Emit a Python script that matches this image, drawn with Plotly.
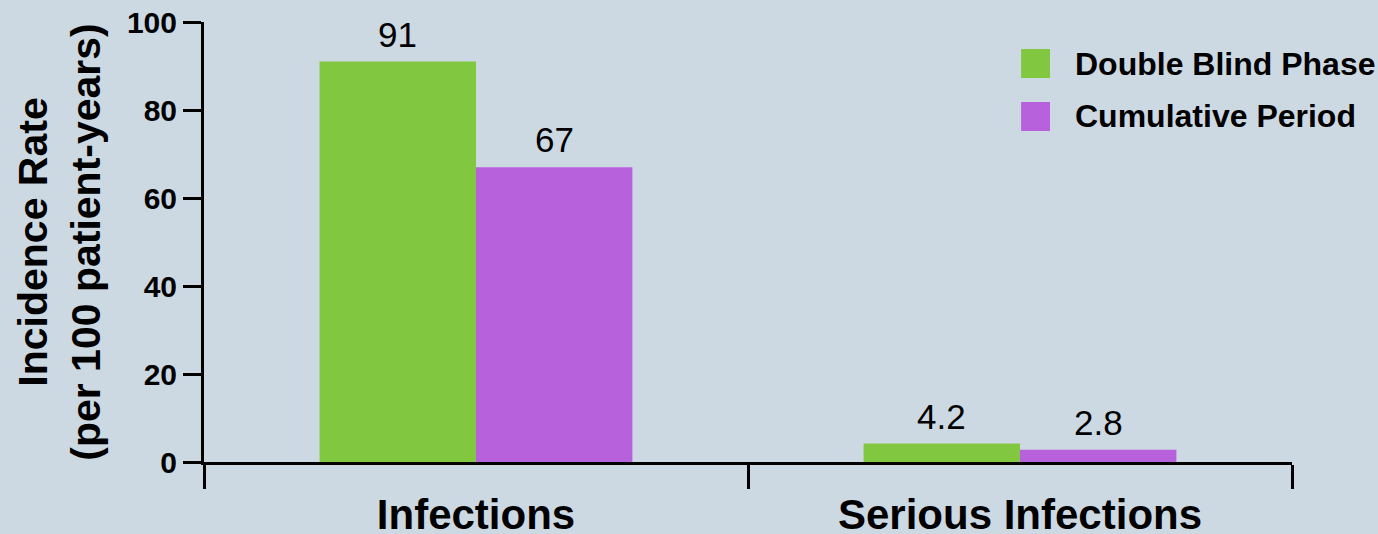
import plotly.graph_objects as go

# Incidence of infections per 100 patient-years
categories = ["Infections", "Serious Infections"]
series_names = ["Double Blind Phase", "Cumulative Period"]
double_blind = [91, 4.2]
cumulative = [67, 2.8]
y_ticks = [0, 20, 40, 60, 80, 100]

colors = ["#82c740", "#b762dc"]
bg = "#cdd9e2"
font_family = "Liberation Sans, Arial, sans-serif"

plot_w = 1378 - 204 - 86
bargap = 0.425
bar_w = plot_w / len(categories) * (1 - bargap) / 2

fig = go.Figure()
for i, (name, vals, col) in enumerate(zip(series_names, [double_blind, cumulative], colors)):
    fig.add_trace(go.Bar(
        x=categories, y=vals, name=name,
        marker=dict(color=col, line=dict(width=0)),
        showlegend=False,
    ))
    # value labels above each bar
    shift = (i - 0.5) * bar_w
    for cat, v in zip(categories, vals):
        fig.add_annotation(x=cat, y=v, text=f"{v:g}", showarrow=False,
                           xanchor="center", yanchor="bottom",
                           xshift=shift, yshift=6,
                           font=dict(family=font_family, size=35, color="black"))

# Legend drawn as square swatches with bold labels
legend_x0, legend_x1, text_x = 0.751, 0.7776, 0.7985
legend_rows = [(0.8727, 0.9386), (0.7523, 0.8182)]
for name, col, (y0, y1) in zip(series_names, colors, legend_rows):
    fig.add_shape(type="rect", xref="paper", yref="paper",
                  x0=legend_x0, x1=legend_x1, y0=y0, y1=y1,
                  fillcolor=col, line=dict(width=0))
    fig.add_annotation(xref="paper", yref="paper", x=text_x, y=(y0 + y1) / 2,
                       text=f"<b>{name}</b>", showarrow=False,
                       xanchor="left", yanchor="middle",
                       font=dict(family=font_family, size=32, color="black"))

fig.update_layout(
    width=1378, height=534,
    margin=dict(l=204, r=86, t=22, b=72, autoexpand=False),
    paper_bgcolor=bg, plot_bgcolor=bg,
    barmode="group", bargap=bargap, bargroupgap=0,
    font=dict(family=font_family, color="black"),
    showlegend=False,
)
fig.update_xaxes(
    type="category", tickson="boundaries",
    ticks="outside", ticklen=24, tickwidth=3, tickcolor="black",
    showline=True, linewidth=3, linecolor="black",
    showgrid=False, zeroline=False, automargin=False,
    tickfont=dict(family=font_family, size=42, color="black", weight="bold"),
    ticklabelstandoff=14,
)
fig.update_yaxes(
    range=[0, 100], tickvals=y_ticks,
    ticks="outside", ticklen=18, tickwidth=3, tickcolor="black",
    showline=True, linewidth=3, linecolor="black",
    showgrid=False, zeroline=False, automargin=False,
    tickfont=dict(family=font_family, size=30, color="black", weight="bold"),
    title=dict(text="<b>Incidence Rate<br>(per 100 patient-years)</b>",
               font=dict(family=font_family, size=41, color="black"),
               standoff=14),
)

fig.write_html("out.html")
